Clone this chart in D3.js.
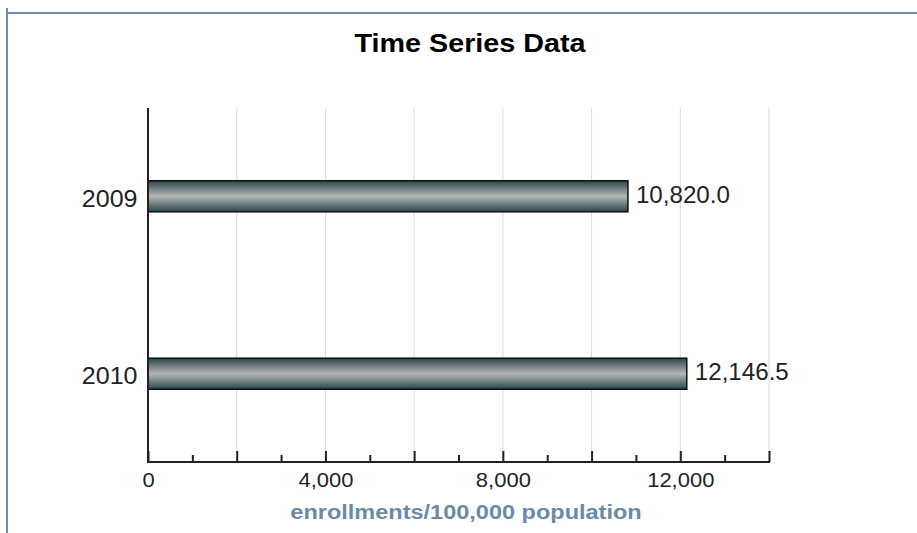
<!DOCTYPE html>
<html>
<head>
  <meta charset="utf-8">
  <title>Time Series Data</title>
  <script src="https://d3js.org/d3.v7.min.js"></script>
  <style>
    body { margin: 0; background: #fff; }
    text { font-family: "Liberation Sans", Arial, sans-serif; }
  </style>
</head>
<body>
  <script>
    var width = 917;
    var height = 533;

    // data
    var years = ["2009", "2010"];
    var values = [10820.0, 12146.5];
    var tickLabels = [0, 4000, 8000, 12000];

    var svg = d3.select("body").append("svg").attr("width", width).attr("height", height);

    // frame lines
    svg.append("line").attr("x1", 7).attr("x2", 7).attr("y1", 8).attr("y2", height)
      .attr("stroke", "#6e8fae").attr("stroke-width", 2);
    svg.append("line").attr("x1", 8).attr("x2", width).attr("y1", 13).attr("y2", 13)
      .attr("stroke", "#6e8fae").attr("stroke-width", 2);

    var x = d3.scaleLinear().domain([0, 14000]).range([148, 769]);
    var y = d3.scaleBand().domain(years).range([108, 462]).paddingInner(0.825).paddingOuter(0.41);

    // gradient for bars
    var grad = svg.append("defs").append("linearGradient")
      .attr("id", "barGrad").attr("x1", 0).attr("x2", 0).attr("y1", 0).attr("y2", 1);
    grad.append("stop").attr("offset", "0%").attr("stop-color", "#2a4549");
    grad.append("stop").attr("offset", "50%").attr("stop-color", "#b4b6b6");
    grad.append("stop").attr("offset", "100%").attr("stop-color", "#2a4549");

    // grid lines
    svg.append("g").selectAll("line")
      .data(d3.range(2000, 14001, 2000))
      .enter().append("line")
      .attr("x1", function (d) { return x(d); })
      .attr("x2", function (d) { return x(d); })
      .attr("y1", 108).attr("y2", 462)
      .attr("stroke", "#dcdcdc").attr("stroke-width", 1);

    // bars
    svg.append("g").selectAll("rect")
      .data(years)
      .enter().append("rect")
      .attr("x", x(0))
      .attr("y", function (d) { return y(d); })
      .attr("width", function (d, i) { return x(values[i]) - x(0); })
      .attr("height", y.bandwidth())
      .attr("fill", "url(#barGrad)")
      .attr("stroke", "#111")
      .attr("stroke-width", 1.5);

    // value labels (text in the original is slightly wider, so stretch it a bit)
    svg.append("g").selectAll("text")
      .data(years)
      .enter().append("text")
      .attr("transform", function (d, i) {
        return "translate(" + (x(values[i]) + 8) + "," + (y(d) + y.bandwidth() / 2 - 1.5) + ") scale(1.05,1)";
      })
      .attr("dy", "0.35em")
      .attr("font-size", 23)
      .attr("fill", "#222")
      .text(function (d, i) { return d3.format(",.1f")(values[i]); });

    // x axis with major + minor ticks
    var xMinor = d3.axisBottom(x).tickValues(d3.range(1000, 14000, 2000)).tickSize(-7).tickFormat("");
    var xMajor = d3.axisBottom(x).tickValues(d3.range(0, 14001, 2000)).tickSize(-11)
      .tickFormat(function (d) { return tickLabels.indexOf(d) >= 0 ? d3.format(",")(d) : ""; });

    var gMinor = svg.append("g").attr("transform", "translate(0,462)").call(xMinor);
    gMinor.select(".domain").remove();
    gMinor.selectAll("line").attr("stroke", "#222").attr("stroke-width", 2);

    var gX = svg.append("g").attr("transform", "translate(0,462)").call(xMajor);
    gX.select(".domain").attr("stroke", "#222").attr("stroke-width", 2).attr("d", "M148,0H770");
    gX.selectAll(".tick line").attr("stroke", "#222").attr("stroke-width", 2);
    gX.selectAll(".tick text").attr("y", 11).attr("dy", "0.71em")
      .attr("transform", "scale(1.1,1)")
      .attr("font-size", 20).attr("fill", "#222").attr("font-family", "Liberation Sans, Arial, sans-serif");

    // y axis
    var yAxis = d3.axisLeft(y).tickSize(0).tickPadding(10);
    var gY = svg.append("g").attr("transform", "translate(148,0)").call(yAxis);
    gY.select(".domain").attr("stroke", "#222").attr("stroke-width", 2).attr("d", "M0,108V463");
    gY.selectAll(".tick text").attr("font-size", 23).attr("fill", "#222").attr("dy", "0.45em")
      .attr("x", -10.5 / 1.09).attr("transform", "scale(1.09,1)")
      .attr("font-family", "Liberation Sans, Arial, sans-serif");

    // title
    svg.append("text")
      .attr("transform", "translate(470,52) scale(1.15,1)")
      .attr("text-anchor", "middle")
      .attr("font-size", 25).attr("font-weight", "bold")
      .attr("fill", "#000")
      .text("Time Series Data");

    // axis title
    svg.append("text")
      .attr("transform", "translate(466,519) scale(1.12,1)")
      .attr("text-anchor", "middle")
      .attr("font-size", 21).attr("font-weight", "bold")
      .attr("fill", "#6a8aa6")
      .text("enrollments/100,000 population");
  </script>
</body>
</html>
